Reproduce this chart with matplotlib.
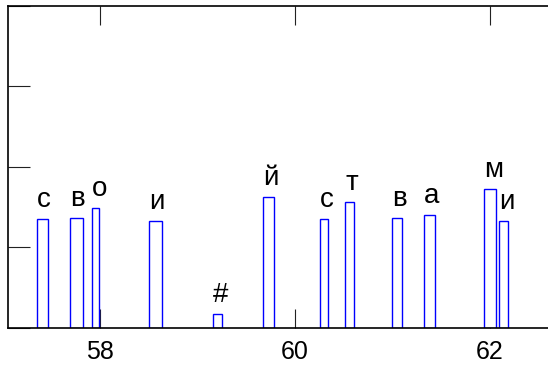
import matplotlib
matplotlib.use("Agg")
import matplotlib.pyplot as plt

plt.rcParams['font.family'] = ['Liberation Sans', 'DejaVu Sans']

# bar left edges, widths, heights and labels
lefts = [57.357, 57.695, 57.915, 58.506, 59.159, 59.672, 60.253, 60.513, 60.992, 61.320, 61.938, 62.089]
widths = [0.107, 0.131, 0.078, 0.127, 0.095, 0.116, 0.088, 0.095, 0.109, 0.116, 0.123, 0.092]
heights = [1.346, 1.362, 1.483, 1.325, 0.168, 1.623, 1.346, 1.561, 1.358, 1.403, 1.719, 1.328]
labels = ['с', 'в', 'о', 'и', '#', 'й', 'с', 'т', 'в', 'а', 'м', 'и']

xticks = [58, 60, 62]
xticklabels = ['58', '60', '62']
yticks = [0, 1, 2, 3, 4]

W, H = 548, 368
fig = plt.figure(figsize=(W / 100, H / 100), dpi=100)
ax = fig.add_axes([8 / W, 40.5 / H, 540 / W, 321.8 / H])

ax.bar(lefts, heights, width=widths, align='edge', facecolor='white',
       edgecolor='#0000ff', linewidth=1.0, zorder=2)

for x, h, s in zip(lefts, heights, labels):
    ax.text(x, h + 0.15, s, ha='left', va='baseline', fontsize=20, color='black')

ax.set_xlim(57.056, 62.595)
ax.set_ylim(0, 4)
ax.set_xticks(xticks)
ax.set_xticklabels(xticklabels)
ax.set_yticks(yticks)
ax.set_yticklabels([])
ax.tick_params(axis='x', direction='in', length=14, width=0.8, top=True, bottom=True,
               labelsize=18, pad=9, color='#222222')
ax.tick_params(axis='y', direction='in', length=15.5, width=0.8, left=True, right=False,
               color='#222222')
for side in ['left', 'bottom', 'top']:
    ax.spines[side].set_linewidth(1.2)
ax.spines['right'].set_visible(False)

fig.savefig('out.png', dpi=100)
